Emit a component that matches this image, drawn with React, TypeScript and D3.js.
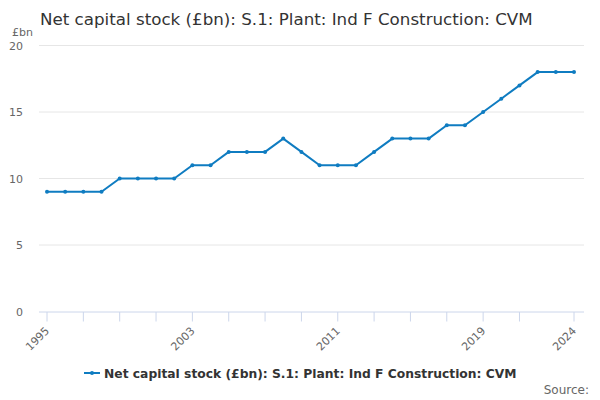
import React from "react";
import * as d3 from "d3";

const years: number[] = d3.range(1995, 2025);
const values: number[] = [9, 9, 9, 9, 10, 10, 10, 10, 11, 11, 12, 12, 12, 13, 12, 11, 11, 11, 12, 13, 13, 13, 14, 14, 15, 16, 17, 18, 18, 18];
const yTicks: number[] = [0, 5, 10, 15, 20];
const xTickYears: number[] = [1995, 1997, 1999, 2001, 2003, 2005, 2007, 2009, 2011, 2013, 2015, 2017, 2019, 2021, 2024];
const xLabelYears: number[] = [1995, 2003, 2011, 2019, 2024];
const title = "Net capital stock (£bn): S.1: Plant: Ind F Construction: CVM";
const seriesName = "Net capital stock (£bn): S.1: Plant: Ind F Construction: CVM";

const W = 600, H = 400;
const FONT = "'DejaVu Sans', sans-serif";
const BLUE = "#0f7cc1";

export default function App() {
  const x = d3.scaleLinear().domain([1995, 2024]).range([47, 574]);
  const y = d3.scaleLinear().domain([0, 20]).range([311.5, 45.5]);
  const line = d3.line<number>().x((_, i) => x(years[i])).y((d) => y(d));
  return (
    <svg width={W} height={H} style={{ position: "absolute", left: 0, top: 0, background: "#fff" }} fontFamily={FONT}>
      <text x={40} y={25} fontSize={16.7} fill="#333">{title}</text>
      <text x={12} y={36} fontSize={11} fill="#666">£bn</text>
      {yTicks.map((t) => (
        <g key={t}>
          {t !== 0 && <line x1={39} x2={584} y1={y(t)} y2={y(t)} stroke="#e6e6e6" strokeWidth={1} />}
          <text x={23} y={y(t) + 4} fontSize={11} fill="#666" textAnchor="end">{t}</text>
        </g>
      ))}
      <line x1={39} x2={584} y1={y(0) + 0.5} y2={y(0) + 0.5} stroke="#ccd6eb" strokeWidth={1} />
      {xTickYears.map((yr) => (
        <line key={yr} x1={x(yr)} x2={x(yr)} y1={y(0) + 0.5} y2={y(0) + 10} stroke="#ccd6eb" strokeWidth={1} />
      ))}
      {xLabelYears.map((yr) => (
        <text key={yr} fontSize={11} fill="#666" textAnchor="end"
          transform={`translate(${x(yr) + 3},${y(0) + 20}) rotate(-45)`}>{yr}</text>
      ))}
      <path d={line(values) ?? ""} fill="none" stroke={BLUE} strokeWidth={2} strokeLinejoin="round" />
      {values.map((v, i) => (
        <circle key={i} cx={x(years[i])} cy={y(v)} r={2} fill={BLUE} />
      ))}
      <g>
        <line x1={84} x2={100} y1={373} y2={373} stroke={BLUE} strokeWidth={2} />
        <circle cx={92} cy={373} r={2} fill={BLUE} />
        <text x={104} y={377.5} fontSize={12.3} fontWeight="bold" fill="#333">{seriesName}</text>
      </g>
      <text x={589} y={394} fontSize={12} fill="#666" textAnchor="end">Source:</text>
    </svg>
  );
}
